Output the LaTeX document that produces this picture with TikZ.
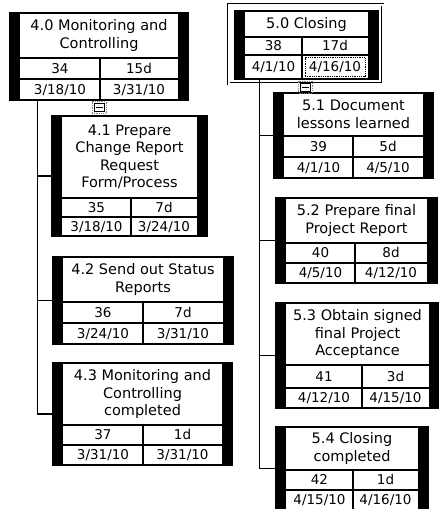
\documentclass[tikz,border=0pt]{standalone}
\usepackage{fontspec}
\setmainfont{DejaVu Sans}
\usetikzlibrary{calc}
\tikzset{
  taskframe/.style={draw=black, line width=1.4pt, fill=white, inner sep=0pt, rectangle},
  cellline/.style={draw=black, line width=1.4pt},
  titletext/.style={align=center, inner sep=0pt, font=\fontsize{14.5}{17.5}\selectfont},
  celltext/.style={inner sep=0pt, font=\fontsize{13.5}{16}\selectfont, text height=9.5pt, text depth=0.5pt},
  conn/.style={draw=black, line width=1.1pt},
  minusbox/.style={draw=gray, densely dotted, line width=0.8pt, minimum width=14pt, minimum height=12pt, inner sep=0pt,
    path picture={
      \draw[solid, black, line width=0.7pt] ($(path picture bounding box.south west)+(2pt,2pt)$) rectangle ($(path picture bounding box.north east)+(-2pt,-2pt)$);
      \draw[solid, black, line width=1pt] ($(path picture bounding box.west)+(3.5pt,0)$) -- ($(path picture bounding box.east)+(-3.5pt,0)$);
    }},
  selcell/.style={draw=black, densely dotted, line width=0.8pt}
}
\def\barw{10}
% #1 name, #2 L, #3 T, #4 R, #5 B, #6 Y1, #7 Y2, #8 M, #9 title
\newcommand{\tbox}[9]{%
  \node[taskframe, minimum width={#4pt-#2pt}, minimum height={#5pt-#3pt}] (#1) at ({(#2+#4)/2},{(#3+#5)/2}) {};
  \fill[black] (#2,#3) rectangle ({#2+\barw},#5);
  \fill[black] ({#4-\barw},#3) rectangle (#4,#5);
  \draw[cellline] ({#2+\barw},#6) -- ({#4-\barw},#6);
  \draw[cellline] ({#2+\barw},#7) -- ({#4-\barw},#7);
  \draw[cellline] (#8,#6) -- (#8,#5);
  \coordinate (#1-d) at ({#2+\barw},#3);
  \coordinate (#1-e) at ({#4-\barw},#6);
  \coordinate (#1-a) at ({#2+\barw},#6);
  \coordinate (#1-b) at (#8,#7);
  \coordinate (#1-f) at (#8,#6);
  \coordinate (#1-g) at ({#4-\barw},#7);
  \coordinate (#1-h) at ({#2+\barw},#7);
  \coordinate (#1-i) at (#8,#5);
  \coordinate (#1-c) at ({#4-\barw},#5);
  \node[titletext] (#1-title) at ($(#1-d)!0.5!(#1-e)$) {#9};
}
% #1 name, #2 id, #3 dur, #4 start, #5 end
\newcommand{\tcells}[5]{%
  \node[celltext] (#1-id) at ($(#1-a)!0.5!(#1-b)$) {#2};
  \node[celltext] (#1-dur) at ($(#1-f)!0.5!(#1-g)$) {#3};
  \node[celltext] (#1-start) at ($(#1-h)!0.5!(#1-i)$) {#4};
  \node[celltext] (#1-end) at ($(#1-b)!0.5!(#1-c)$) {#5};
}
\begin{document}
\begin{tikzpicture}[x=1pt, y=-1pt]
\useasboundingbox (0,0) rectangle (439,509);
\fill[white] (0,0) rectangle (439,509);

% ---------- left column ----------
\tbox{t40}{10}{13}{188}{100}{58}{79}{100}{4.0 Monitoring and\\Controlling}
\tcells{t40}{34}{15d}{3/18/10}{3/31/10}

\tbox{t41}{52}{116}{207}{236}{198}{217}{131}{4.1 Prepare\\Change Report\\Request\\Form/Process}
\tcells{t41}{35}{7d}{3/18/10}{3/24/10}

\tbox{t42}{53}{257}{233}{344}{302}{323}{143}{4.2 Send out Status\\Reports}
\tcells{t42}{36}{7d}{3/24/10}{3/31/10}

\tbox{t43}{53}{363}{232}{465}{425}{445}{143}{4.3 Monitoring and\\Controlling\\completed}
\tcells{t43}{37}{1d}{3/31/10}{3/31/10}

\node[minusbox] (m40) at (99,107.5) {};

\coordinate (sp4) at ([xshift=28pt]t40.south west);
\draw[conn] (sp4) |- (t43.west);
\draw[conn] (sp4 |- t41.west) -- (t41.west);
\draw[conn] (sp4 |- t42.west) -- (t42.west);

% ---------- right column ----------
\node[draw=black, double=white, double distance=2pt, line width=0.8pt, minimum width=154pt, minimum height=79pt, inner sep=0pt] (f50) at (305.5,44) {};
\tbox{t50}{235}{11}{378}{79}{37}{55}{302}{5.0 Closing}
\tcells{t50}{38}{17d}{4/1/10}{4/16/10}
\node[selcell, minimum width=60pt, minimum height=19pt, inner sep=0pt] (sel50) at (t50-end) {};

\tbox{t51}{274}{93}{433}{178}{136}{157}{353}{5.1 Document\\lessons learned}
\tcells{t51}{39}{5d}{4/1/10}{4/5/10}

\tbox{t52}{276}{198}{437}{283}{243}{263}{355}{5.2 Prepare final\\Project Report}
\tcells{t52}{40}{8d}{4/5/10}{4/12/10}

\tbox{t53}{276}{303}{439}{408}{365}{388}{362}{5.3 Obtain signed\\final Project\\Acceptance}
\tcells{t53}{41}{3d}{4/12/10}{4/15/10}

\tbox{t54}{276}{427}{428}{510}{470}{490}{353}{5.4 Closing\\completed}
\tcells{t54}{42}{1d}{4/15/10}{4/16/10}

\node[minusbox] (m50) at (305.5,87) {};

\coordinate (sp5) at ([xshift=25pt]t50.south west);
\draw[conn] (sp5) |- (t54.west);
\draw[conn] (sp5 |- t51.west) -- (t51.west);
\draw[conn] (sp5 |- t52.west) -- (t52.west);
\draw[conn] (sp5 |- t53.west) -- (t53.west);
\end{tikzpicture}
\end{document}
